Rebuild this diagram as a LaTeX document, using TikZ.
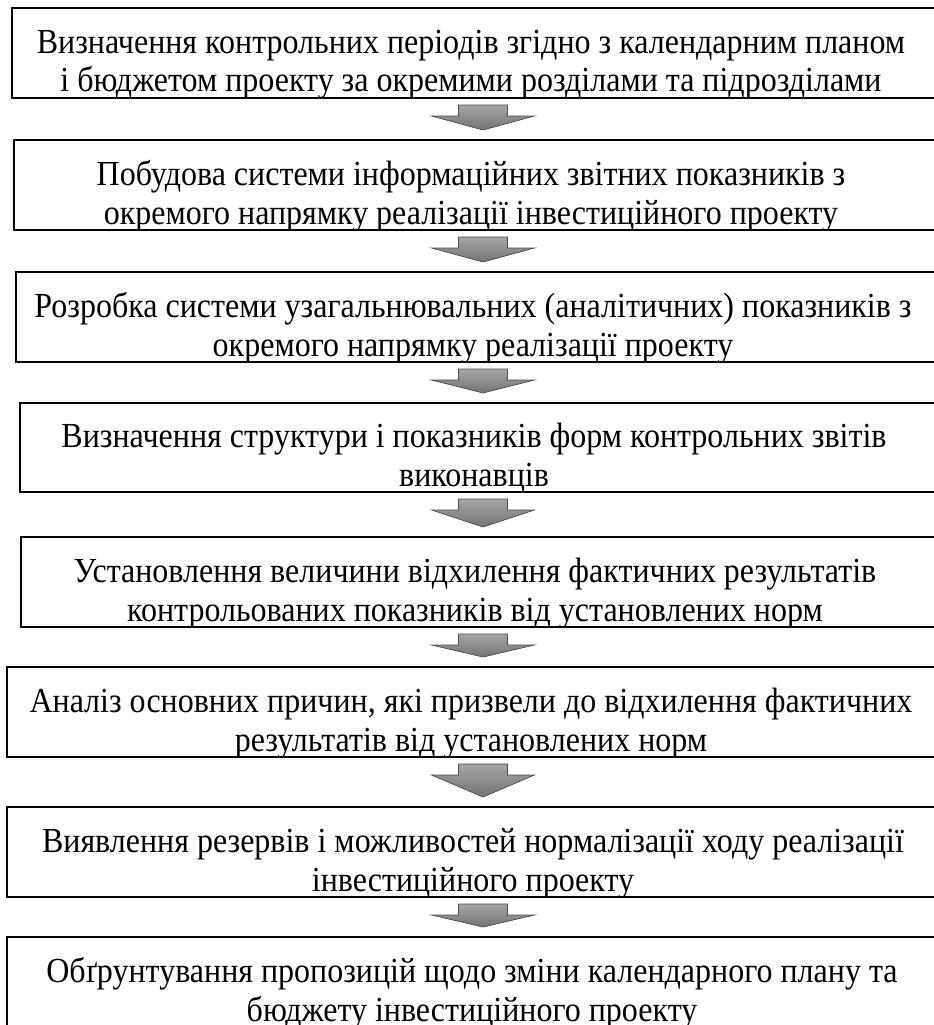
\documentclass[tikz,border=0pt]{standalone}
\usepackage{fontspec}
\usepackage{graphicx}
\setmainfont{Liberation Serif}
\usetikzlibrary{calc}
\tikzset{
  stagebox/.style={draw=black, line width=2.6pt, rectangle, inner sep=0pt, outer sep=0pt, anchor=north west, fill=none},
  linetxt/.style={anchor=base, inner sep=0pt, font=\fontsize{32}{37}\selectfont},
  blockarrow/.style={draw=black!70, line width=0.6pt, top color=black!35, bottom color=black!55}
}
\newcommand{\tallline}[1]{\scalebox{1}[1.1]{#1}}
\newcommand{\stage}[7]{%
  % #1 name, #2 left, #3 top, #4 bottom, #5 line1, #6 line2, #7 text centre x
  \node[stagebox, minimum width={945-#2}, minimum height={#4-#3}] (#1) at (#2,#3) {};
  \begin{scope}
    \clip ($(#1.north west)+(1.3,1.3)$) rectangle ($(#1.south east)+(-1.3,-1.3)$);
    \node[linetxt] (#1a) at (#7,{#4-45}) {\tallline{#5}};
    \node[linetxt] (#1b) at (#7,{#4-6}) {\tallline{#6}};
  \end{scope}
}
\newcommand{\blockarr}[2]{%
  % #1 upper box, #2 lower box
  \coordinate (#1s) at ($(#1.south -| ax)+(0,7)$);
  \coordinate (#1e) at ($(#2.north -| ax)+(0,-10)$);
  \filldraw[blockarrow]
    ($(#1s)+(-24.5,0)$) -- ($(#1s)+(24.5,0)$) -- ($(#1s)+(24.5,11)$) -- ($(#1s)+(51.5,11)$)
    -- (#1e) -- ($(#1s)+(-51.5,11)$) -- ($(#1s)+(-24.5,11)$) -- cycle;
}
\begin{document}
\begin{tikzpicture}[x=1pt,y=-1pt]
\useasboundingbox (0,0) rectangle (934,1025);
\coordinate (ax) at (483,0);
\stage{b1}{12}{8}{98}{Визначення контрольних періодів згідно з календарним планом}{і бюджетом проекту за окремими розділами та підрозділами}{471}
\stage{b2}{14}{140}{230}{Побудова системи інформаційних звітних показників з}{окремого напрямку реалізації інвестиційного проекту}{471}
\stage{b3}{16}{272}{362}{Розробка системи узагальнювальних (аналітичних) показників з}{окремого напрямку реалізації проекту}{473}
\stage{b4}{20}{403}{492}{Визначення структури і показників форм контрольних звітів}{виконавців}{474}
\stage{b5}{21}{537}{627}{Установлення величини відхилення фактичних результатів}{контрольованих показників від установлених норм}{475}
\stage{b6}{7}{667}{757}{Аналіз основних причин, які призвели до відхилення фактичних}{результатів від установлених норм}{471}
\stage{b7}{7}{807}{897}{Виявлення резервів і можливостей нормалізації ходу реалізації}{інвестиційного проекту}{473}
\stage{b8}{7}{937}{1027}{Обґрунтування пропозицій щодо зміни календарного плану та}{бюджету інвестиційного проекту}{472}
\blockarr{b1}{b2}
\blockarr{b2}{b3}
\blockarr{b3}{b4}
\blockarr{b4}{b5}
\blockarr{b5}{b6}
\blockarr{b6}{b7}
\blockarr{b7}{b8}
\end{tikzpicture}
\end{document}
